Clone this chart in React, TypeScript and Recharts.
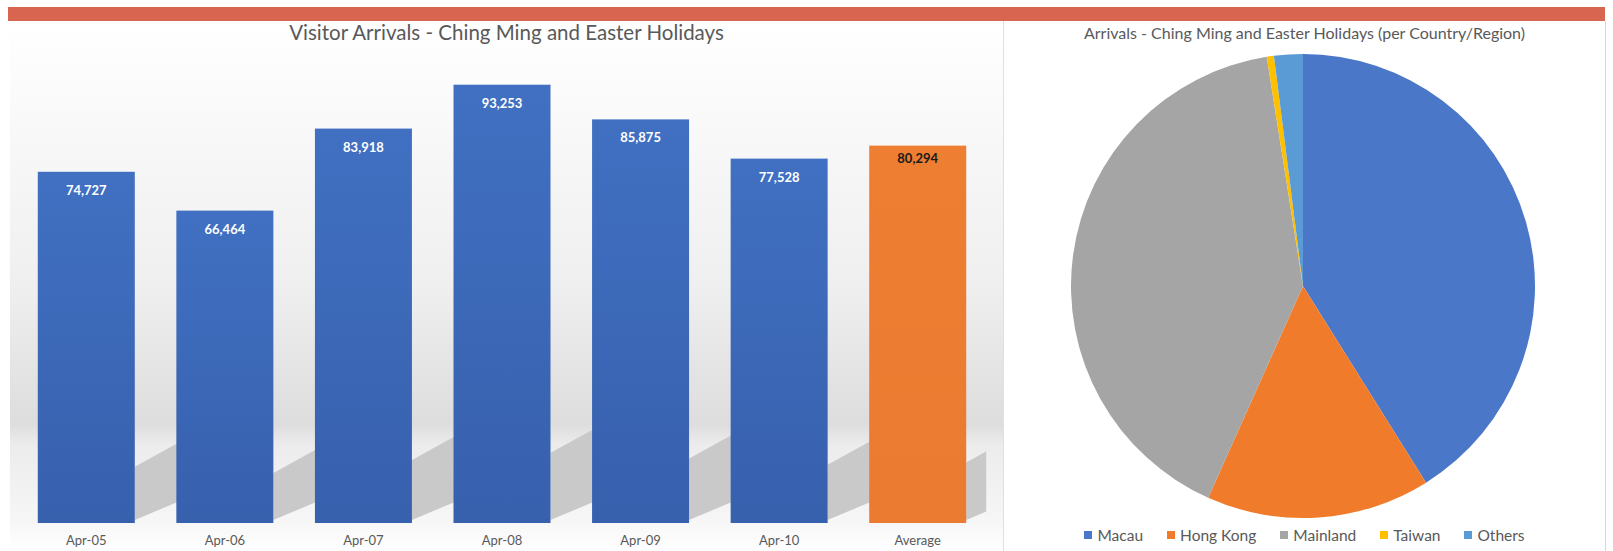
import React from "react";
import {
  BarChart,
  Bar,
  XAxis,
  YAxis,
  Cell,
  LabelList,
  PieChart,
  Pie,
  Legend,
} from "recharts";

// bar chart data
const days = ["Apr-05", "Apr-06", "Apr-07", "Apr-08", "Apr-09", "Apr-10", "Average"];
const arrivals = [74727, 66464, 83918, 93253, 85875, 77528, 80294];

// pie data (share of arrivals, %)
const regions = ["Macau", "Hong Kong", "Mainland", "Taiwan", "Others"];
const regionShares = [41.1, 15.6, 40.8, 0.5, 2.0];
const regionColors = ["#4a77c8", "#ef7b2b", "#a5a5a5", "#ffc000", "#5b9bd5"];

const barData = days.map((day, i) => ({ day, arrivals: arrivals[i] }));
const pieData = regions.map((name, i) => ({ name, value: regionShares[i] }));

const FONT = "Lato, 'Open Sans', sans-serif";
const LAST = days.length - 1;

const ShadowBar = (props: any) => {
  const { x, y, width, height, index } = props;
  const base = y + height;
  const right = x + width;
  const dx = index === LAST ? 20 : 44;
  const t = height * 0.16;
  const pts = `${right},${base - 3} ${right},${base - t} ${right + dx},${base - t - dx * 0.55} ${right + dx},${base - 3 - dx * 0.42}`;
  const isAvg = index === LAST;
  const id = `barGrad${index}`;
  return (
    <g>
      <defs>
        <linearGradient id={id} x1="0" y1="0" x2="0" y2="1">
          <stop offset="0%" stopColor={isAvg ? "#ee7e32" : "#4170c2"} />
          <stop offset="100%" stopColor={isAvg ? "#ea7b30" : "#3760ad"} />
        </linearGradient>
      </defs>
      <polygon points={pts} fill="#c9c9c9" />
      <rect x={x} y={y} width={width} height={height} fill={`url(#${id})`} />
    </g>
  );
};

const ValueLabel = (props: any) => {
  const { x, y, width, value, index } = props;
  const isAvg = index === LAST;
  return (
    <text
      x={x + width / 2}
      y={y + (isAvg ? 12 : 18)}
      textAnchor="middle"
      dominantBaseline="central"
      fill={isAvg ? "#1a1a1a" : "#ffffff"}
      fontSize={13}
      fontWeight={700}
      fontFamily={FONT}
    >
      {Number(value).toLocaleString("en-US")}
    </text>
  );
};

// legend in the data's own order
const PieLegend = () => (
  <div
    style={{
      display: "flex",
      justifyContent: "center",
      gap: 24,
      fontFamily: FONT,
      fontSize: 15.5,
      color: "#595959",
    }}
  >
    {regions.map((name, i) => (
      <div key={name} style={{ display: "flex", alignItems: "center", gap: 5 }}>
        <span style={{ width: 8, height: 8, background: regionColors[i], display: "inline-block" }} />
        <span>{name}</span>
      </div>
    ))}
  </div>
);

export default function App() {
  return (
    <div
      style={{
        position: "fixed",
        left: 0,
        top: 0,
        width: 1613,
        height: 551,
        background: "#ffffff",
        overflow: "hidden",
        fontFamily: FONT,
      }}
    >
      <div
        style={{
          position: "absolute",
          left: 8,
          top: 7,
          width: 1597,
          height: 14,
          background: "#d8654f",
        }}
      />
      {/* left panel */}
      <div
        style={{
          position: "absolute",
          left: 10,
          top: 21,
          width: 993,
          height: 530,
          background:
            "linear-gradient(to bottom, #ffffff 0%, #fcfcfc 10%, #efefef 50%, #dddddd 76%, #ececec 80%, #f6f6f6 94%, #ffffff 100%)",
        }}
      >
        <div
          style={{
            position: "absolute",
            top: -1,
            width: "100%",
            textAlign: "center",
            fontSize: 20.5,
            color: "#595959",
          }}
        >
          Visitor Arrivals - Ching Ming and Easter Holidays
        </div>
        <BarChart
          width={993}
          height={530}
          data={barData}
          margin={{ top: 32, right: 16, bottom: 0, left: 7 }}
          barCategoryGap="15%"
        >
          <XAxis
            dataKey="day"
            axisLine={false}
            tickLine={false}
            height={28}
            tickMargin={7}
            tick={{ fill: "#595959", fontSize: 13, fontFamily: FONT }}
            interval={0}
          />
          <YAxis hide domain={[0, 100000]} />
          <Bar dataKey="arrivals" shape={<ShadowBar />} isAnimationActive={false}>
            {barData.map((d, i) => (
              <Cell key={d.day} fill={i === LAST ? "#ed7d31" : "#4472c4"} />
            ))}
            <LabelList dataKey="arrivals" content={<ValueLabel />} />
          </Bar>
        </BarChart>
      </div>
      {/* right panel */}
      <div
        style={{
          position: "absolute",
          left: 1003,
          top: 21,
          width: 601,
          height: 530,
          borderLeft: "1px solid #e4dede",
          borderRight: "1px solid #ecd2cf",
          background: "#ffffff",
        }}
      >
        <div
          style={{
            position: "absolute",
            top: 2,
            width: "100%",
            textAlign: "center",
            fontSize: 16,
            color: "#595959",
          }}
        >
          Arrivals - Ching Ming and Easter Holidays (per Country/Region)
        </div>
        <PieChart width={601} height={530} margin={{ top: 0, right: 0, bottom: 0, left: 0 }}>
          <Pie
            data={pieData}
            dataKey="value"
            nameKey="name"
            cx={299}
            cy={265}
            outerRadius={232}
            startAngle={90}
            endAngle={-270}
            stroke="none"
            isAnimationActive={false}
          >
            {pieData.map((d, i) => (
              <Cell key={d.name} fill={regionColors[i]} />
            ))}
          </Pie>
          <Legend
            content={<PieLegend />}
            wrapperStyle={{ top: 505, left: 0, width: 601 }}
          />
        </PieChart>
      </div>
    </div>
  );
}
